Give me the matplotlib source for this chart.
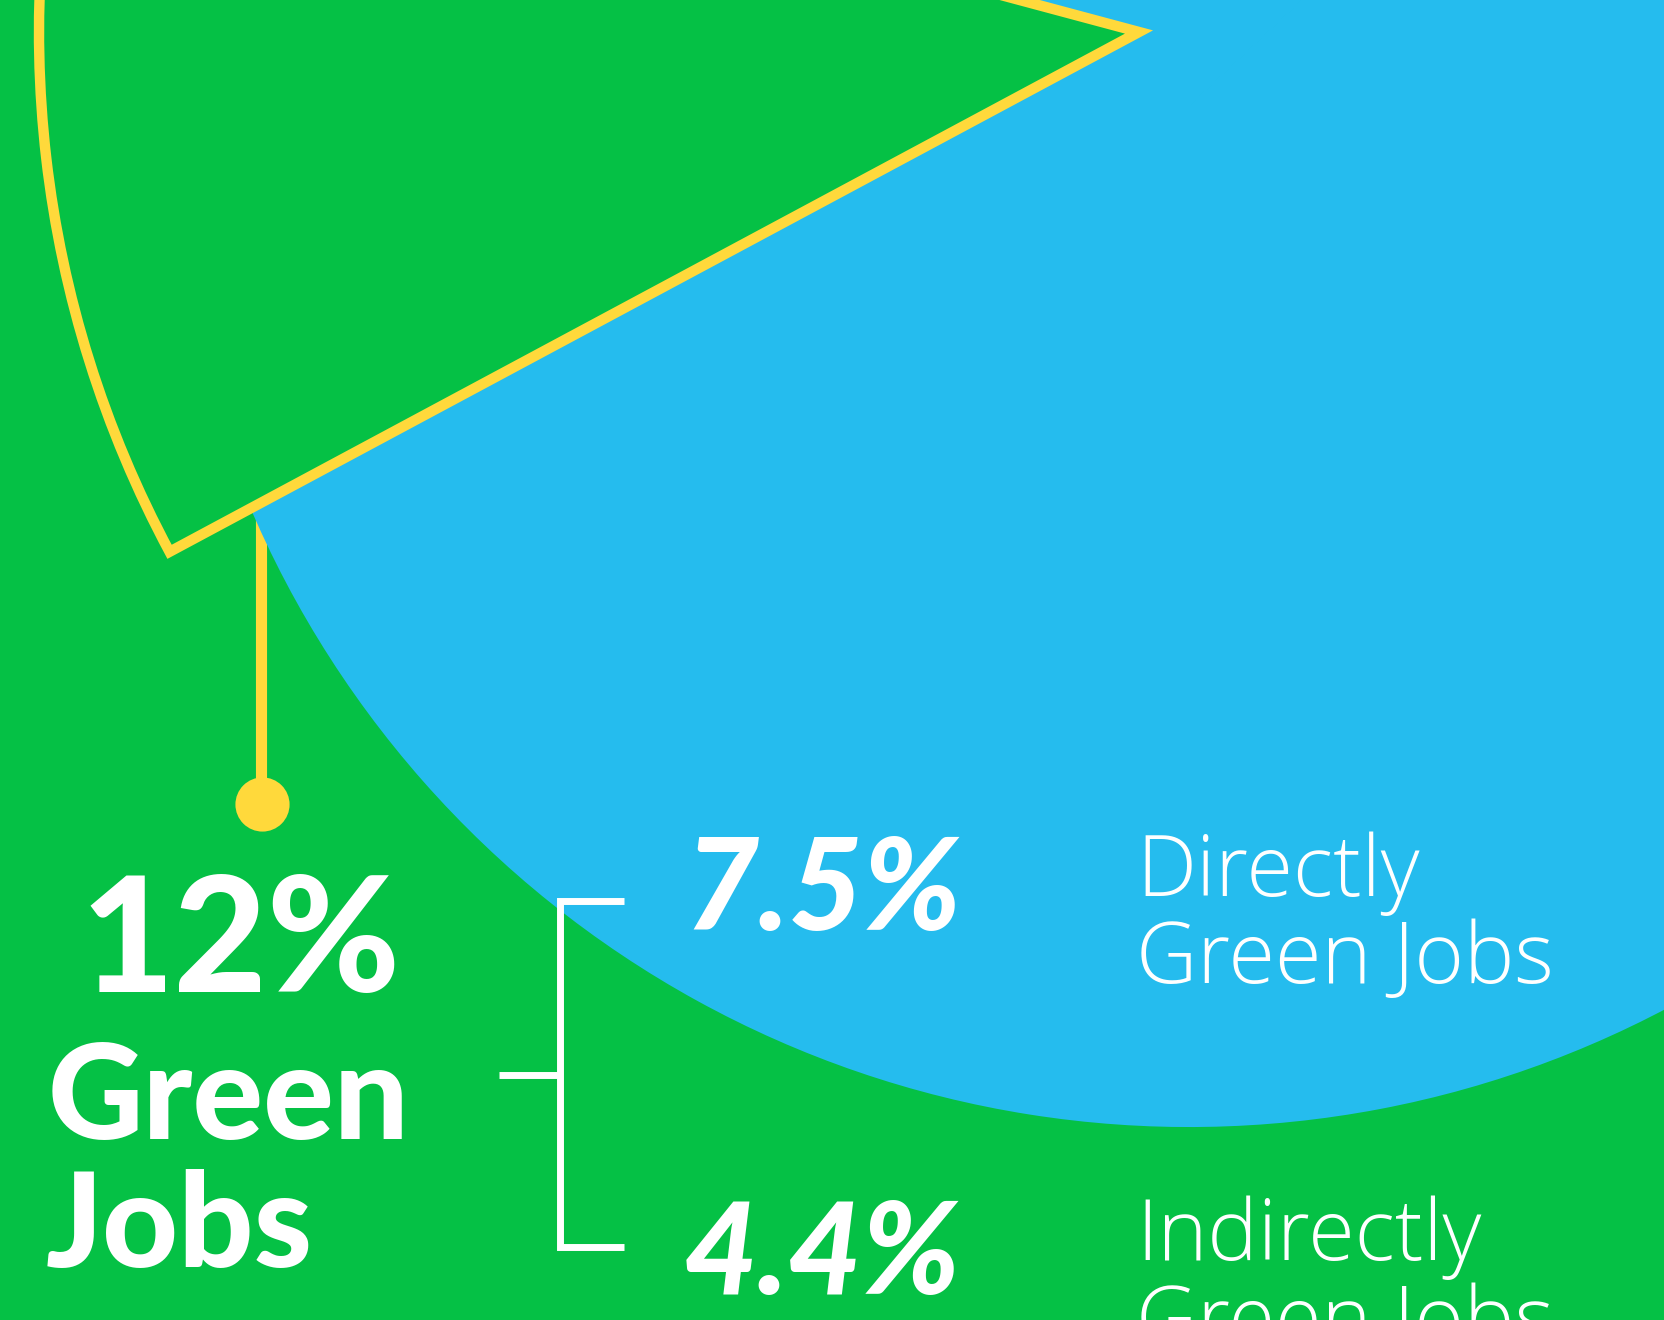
import matplotlib
matplotlib.use("Agg")
import matplotlib.pyplot as plt

total_green = 12
sub_values = [7.5, 4.4]
sub_labels = ["Directly\nGreen Jobs", "Indirectly\nGreen Jobs"]
pie_shares = [total_green, 100 - total_green]

GREEN = "#05c145"
BLUE = "#25bcee"
YELLOW = "#ffd93b"
WHITE = "white"

W, H = 1665, 1320
fig = plt.figure(figsize=(W / 100, H / 100), dpi=100)
fig.patch.set_facecolor(GREEN)
ax = fig.add_axes((0, 0, 1, 1))

# all jobs disc
ax.pie(pie_shares, colors=[BLUE, BLUE], radius=1020, center=(1189, H - 106),
       wedgeprops=dict(linewidth=1.5, edgecolor=BLUE))

# green share, pulled out of the disc
wedges, _ = ax.pie(pie_shares, colors=[GREEN, "none"], radius=1100, center=(1139, H - 32),
                   startangle=208.2, counterclock=False,
                   wedgeprops=dict(edgecolor=YELLOW, linewidth=7.5, joinstyle="miter"))
wedges[1].set_visible(False)

ax.set_xlim(0, W)
ax.set_ylim(0, H)
ax.set_aspect("equal")
ax.axis("off")

# pendant
ax.plot([261, 261], [H - 495, H - 804], color=YELLOW, lw=8, solid_capstyle="butt", zorder=0.9)
ax.plot(262, H - 804, "o", ms=39, color=YELLOW, mew=0, zorder=3)

# bracket
ax.plot([624, 560, 560, 624], [H - 901, H - 901, H - 1247, H - 1247], color=WHITE, lw=5,
        solid_joinstyle="miter", solid_capstyle="butt")
ax.plot([499, 560], [H - 1075, H - 1075], color=WHITE, lw=5, solid_capstyle="butt")

bold = dict(family="Lato", weight="black", color=WHITE)
light = dict(family="Open Sans", weight="light", color=WHITE)

ax.text(80, H - 992, f"{total_green:g}%", fontsize=116, va="baseline", ha="left", **bold)
ax.text(48, H - 1139, "Green", fontsize=95, va="baseline", ha="left", **bold)
ax.text(46, H - 1267, "Jobs", fontsize=95, va="baseline", ha="left", **bold)

base_y = [930, 1294]
for v, lab, by in zip(sub_values, sub_labels, base_y):
    ax.text(684, H - by, f"{v:g}%", fontsize=92, va="baseline", ha="left", style="italic", **bold)
    l1, l2 = lab.split("\n")
    ax.text(1136, H - (by - 34), l1, fontsize=61, va="baseline", ha="left", **light)
    ax.text(1136, H - (by + 53), l2, fontsize=61, va="baseline", ha="left", **light)

fig.savefig("out.png", dpi=100, facecolor=fig.get_facecolor())
